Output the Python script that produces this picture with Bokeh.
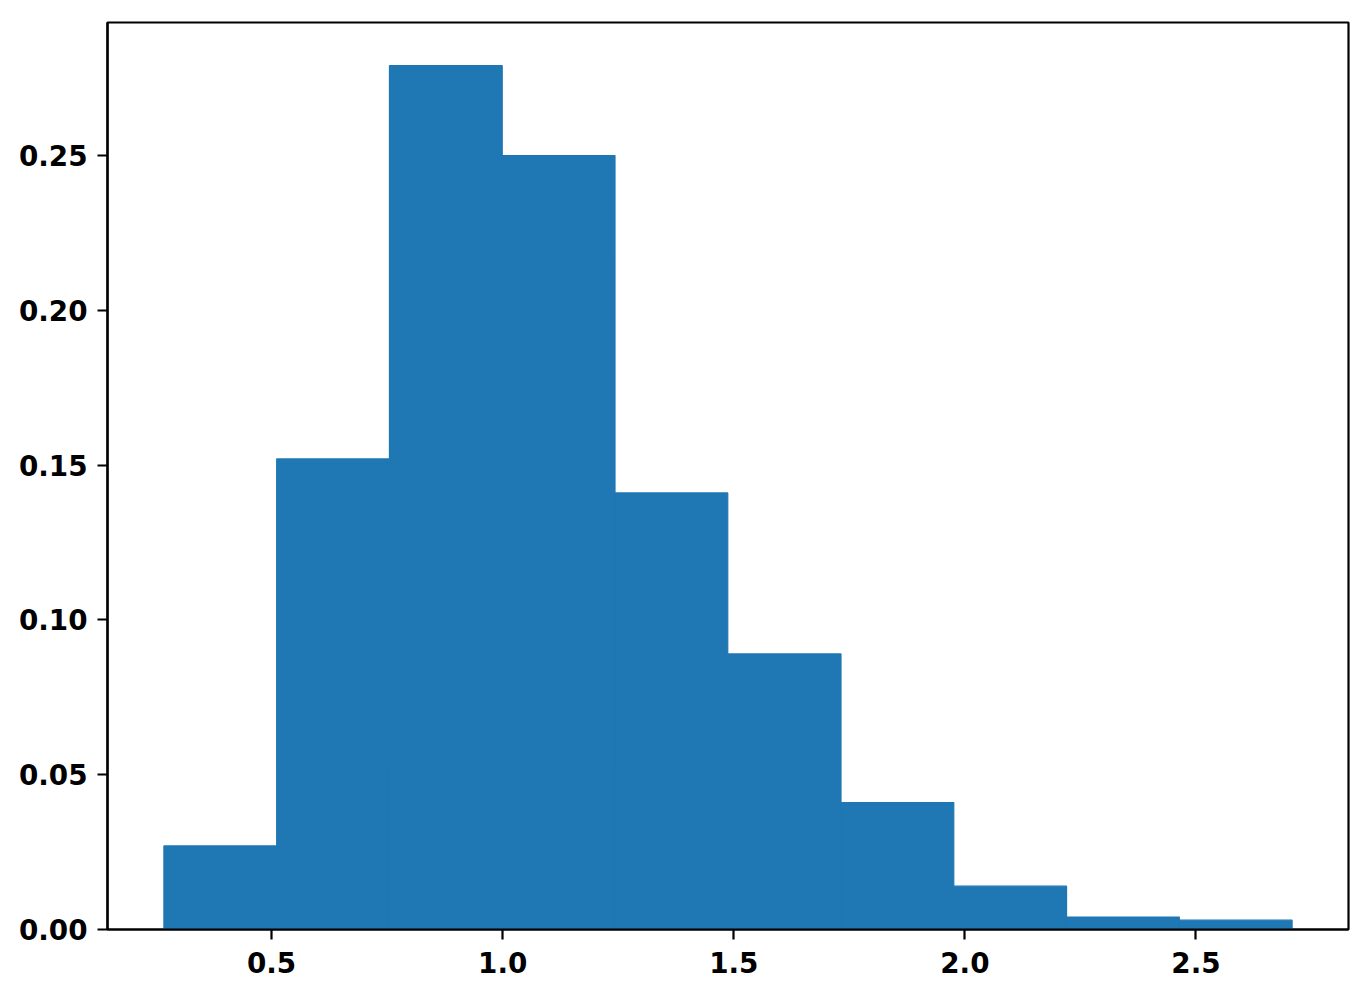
from bokeh.plotting import figure
from bokeh.models import Range1d, FixedTicker, PrintfTickFormatter, ColumnDataSource
from bokeh.embed import file_html
from bokeh.resources import INLINE

# Histogram data (fraction of samples per bin)
bin_edges = [0.267, 0.511, 0.755, 0.999, 1.243, 1.487, 1.732, 1.976, 2.220, 2.464, 2.708]
bin_fractions = [0.027, 0.152, 0.279, 0.250, 0.141, 0.089, 0.041, 0.014, 0.004, 0.003]
x_ticks = [0.5, 1.0, 1.5, 2.0, 2.5]
y_ticks = [0.00, 0.05, 0.10, 0.15, 0.20, 0.25]

lefts = bin_edges[:-1]
rights = bin_edges[1:]
bottoms = [0.0] * len(bin_fractions)

span_x = bin_edges[-1] - bin_edges[0]
x_min = bin_edges[0] - 0.05 * span_x
x_max = bin_edges[-1] + 0.05 * span_x
y_max = max(bin_fractions) * 1.05

p = figure(
    width=1355, height=980,
    output_backend="svg", toolbar_location=None,
    x_range=Range1d(x_min, x_max), y_range=Range1d(0, y_max),
    min_border_left=107, min_border_right=7, min_border_top=22, min_border_bottom=51,
)

src = ColumnDataSource(dict(left=lefts, right=rights, top=bin_fractions, bottom=bottoms))
p.quad(left="left", right="right", top="top", bottom="bottom", source=src,
       fill_color="#1f77b4", line_color="#1f77b4", line_width=1.2)

p.xgrid.visible = False
p.ygrid.visible = False
p.outline_line_color = "black"
p.outline_line_width = 2.2
p.outline_line_alpha = 1.0
p.background_fill_color = "white"
p.border_fill_color = "white"

p.xaxis.ticker = FixedTicker(ticks=x_ticks)
p.yaxis.ticker = FixedTicker(ticks=y_ticks)
p.xaxis.formatter = PrintfTickFormatter(format="%.1f")
p.yaxis.formatter = PrintfTickFormatter(format="%.2f")

for ax in (p.xaxis[0], p.yaxis[0]):
    ax.axis_line_color = "black"
    ax.axis_line_width = 2.2
    ax.major_tick_line_color = "black"
    ax.major_tick_line_width = 2.2
    ax.major_tick_out = 10
    ax.major_tick_in = 0
    ax.minor_tick_line_color = None
    ax.major_label_text_font = "DejaVu Sans"
    ax.major_label_text_font_style = "bold"
    ax.major_label_text_font_size = "27.8px"
    ax.major_label_text_color = "black"

p.xaxis.major_label_standoff = 12
p.yaxis.major_label_standoff = 10

open("out.html", "w").write(file_html(p, INLINE))
